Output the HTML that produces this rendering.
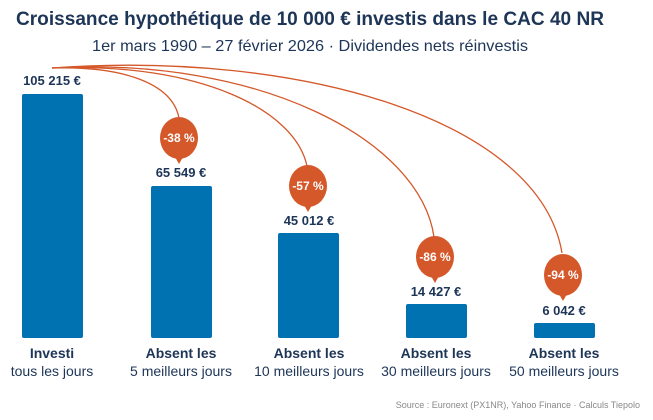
<!DOCTYPE html>
<html><head><meta charset="utf-8"><style>
body{margin:0;background:#fff;width:653px;height:420px;overflow:hidden}
svg{display:block;font-family:"Liberation Sans",sans-serif}
</style></head><body>
<svg width="653" height="420" viewBox="0 0 653 420">
<text x="310" y="25" text-anchor="middle" font-size="19.5" font-weight="bold" fill="#1d3557" textLength="588" lengthAdjust="spacingAndGlyphs">Croissance hypothétique de 10 000 € investis dans le CAC 40 NR</text>
<text x="310" y="51" text-anchor="middle" font-size="16" fill="#1d3557" textLength="436" lengthAdjust="spacingAndGlyphs">1er mars 1990 – 27 février 2026 · Dividendes nets réinvestis</text>
<g fill="#0072b2">
<rect x="22" y="94" width="61" height="244" rx="2"/>
<rect x="151" y="186" width="61" height="152" rx="2"/>
<rect x="278" y="233" width="61" height="105" rx="2"/>
<rect x="406" y="304" width="61" height="34" rx="2"/>
<rect x="534" y="323" width="61" height="15" rx="2"/>
</g>
<g fill="none" stroke="#d4582a" stroke-width="1.3">
<path d="M52,68 C120,66 172,82 179,118"/>
<path d="M52,68 C200,62 295,110 307,166"/>
<path d="M52,68 C260,56 420,140 434,237"/>
<path d="M52,68 C300,50 540,120 562,253"/>
</g>
<g fill="#d4582a">
<ellipse cx="179" cy="138" rx="19" ry="21"/><path d="M175,157 L183,157 L179,164Z"/>
<ellipse cx="308" cy="186" rx="19" ry="21"/><path d="M304,205 L312,205 L308,212Z"/>
<ellipse cx="435" cy="257" rx="19" ry="21"/><path d="M431,276 L439,276 L435,283Z"/>
<ellipse cx="563" cy="275" rx="19" ry="21"/><path d="M559,294 L567,294 L563,301Z"/>
</g>
<g fill="#fff" font-size="12" font-weight="bold" text-anchor="middle">
<text x="179" y="142">-38 %</text><text x="308" y="190">-57 %</text>
<text x="435" y="261">-86 %</text><text x="563" y="279">-94 %</text>
</g>
<g fill="#1d3557" font-size="13" font-weight="bold" text-anchor="middle">
<text x="52" y="85">105 215 €</text><text x="181" y="177">65 549 €</text>
<text x="309" y="225">45 012 €</text><text x="436" y="296">14 427 €</text>
<text x="564" y="315">6 042 €</text>
</g>
<g fill="#1d3557" font-size="14" text-anchor="middle">
<text x="52" y="358" font-weight="bold">Investi</text><text x="52" y="376">tous les jours</text>
<text x="181" y="358" font-weight="bold">Absent les</text><text x="181" y="376">5 meilleurs jours</text>
<text x="309" y="358" font-weight="bold">Absent les</text><text x="309" y="376">10 meilleurs jours</text>
<text x="436" y="358" font-weight="bold">Absent les</text><text x="436" y="376">30 meilleurs jours</text>
<text x="564" y="358" font-weight="bold">Absent les</text><text x="564" y="376">50 meilleurs jours</text>
</g>
<text x="640" y="408" text-anchor="end" font-size="9" fill="#888">Source : Euronext (PX1NR), Yahoo Finance · Calculs Tiepolo</text>
</svg>
</body></html>
